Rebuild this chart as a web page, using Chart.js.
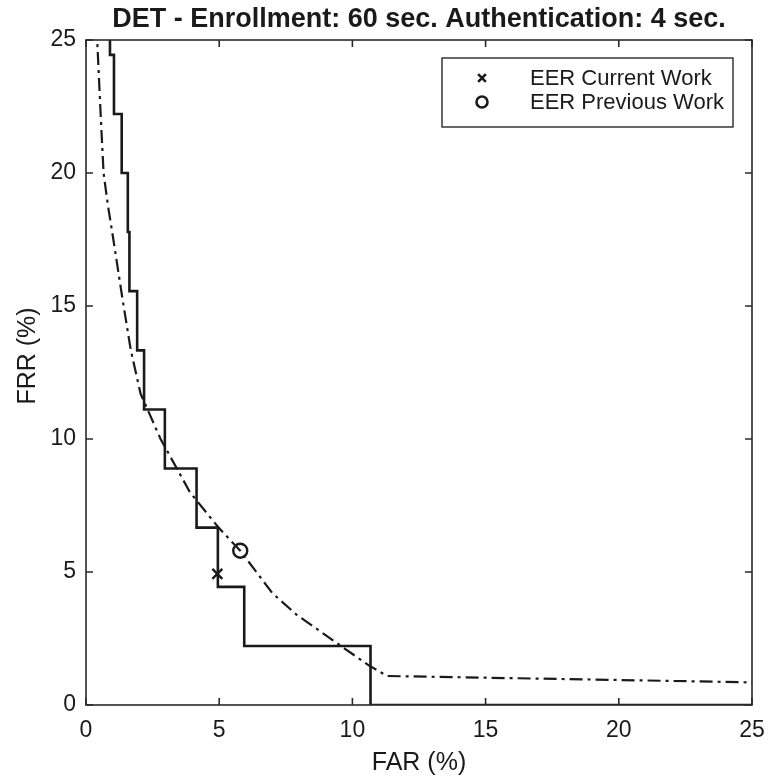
<!DOCTYPE html>
<html>
<head>
<meta charset="utf-8">
<title>DET</title>
<script src="https://cdn.jsdelivr.net/npm/chart.js@4.4.1/dist/chart.umd.min.js"></script>
<style>
  html, body { margin: 0; padding: 0; background: #fff; }
  #wrap { width: 768px; height: 784px; }
</style>
</head>
<body>
<div id="wrap"><canvas id="detChart" width="768" height="784"></canvas></div>
<script>
// DET staircase (step corners: FAR %, FRR %)
const stepFar = [0.9, 1.05, 1.34, 1.57, 1.63, 1.92, 2.18, 2.96, 4.15, 4.95, 5.94, 10.68, 25];
const stepFrr = [26.67, 24.44, 22.22, 20.0, 17.78, 15.56, 13.33, 11.11, 8.89, 6.67, 4.44, 2.22, 0];

// smooth DET curve (dash-dot)
const curveFar = [0.38, 0.42, 0.55, 0.66, 0.82, 0.98, 1.15, 1.38, 1.68, 2.05, 2.8, 3.9, 4.95, 5.79, 7.0, 7.9, 9.6, 10.6, 11.3, 20, 25];
const curveFrr = [26.5, 25, 22.2, 20, 18.8, 17.8, 16.7, 15.2, 13.35, 11.7, 10, 8, 6.7, 5.8, 4.2, 3.4, 2.2, 1.5, 1.09, 0.94, 0.85];

// equal error rate points
const eerCurrent = [4.93, 4.93];
const eerPrevious = [5.79, 5.8];

const axisTicks = [0, 5, 10, 15, 20, 25];
const titleText = 'DET - Enrollment: 60 sec. Authentication: 4 sec.';
const yTitle = 'FRR (%)';
const legendLabels = ['EER Current Work', 'EER Previous Work'];

const INK = '#1a1a1a';
const FONT = '"Liberation Sans", Arial, Helvetica, sans-serif';

function toPoints(xs, ys) {
    return xs.map((x, i) => ({ x: x, y: ys[i] }));
}

// 박스 테두리 + 안쪽 눈금 + 제목 + 범례
const framePlugin = {
    id: 'frame',
    afterDatasetsDraw(chart) {
        const { ctx, chartArea: a, scales } = chart;
        const len = 7;
        ctx.save();
        ctx.strokeStyle = '#2a2a2a';
        ctx.lineWidth = 1.6;
        ctx.strokeRect(a.left, a.top, a.right - a.left, a.bottom - a.top);

        ctx.beginPath();
        axisTicks.forEach(v => {
            const px = scales.x.getPixelForValue(v);
            ctx.moveTo(px, a.bottom); ctx.lineTo(px, a.bottom - len);
            ctx.moveTo(px, a.top); ctx.lineTo(px, a.top + len);
            const py = scales.y.getPixelForValue(v);
            ctx.moveTo(a.left, py); ctx.lineTo(a.left + len, py);
            ctx.moveTo(a.right, py); ctx.lineTo(a.right - len, py);
        });
        ctx.stroke();

        // 제목
        ctx.fillStyle = INK;
        ctx.font = 'bold 27px ' + FONT;
        ctx.textAlign = 'center';
        ctx.textBaseline = 'alphabetic';
        ctx.fillText(titleText, (a.left + a.right) / 2, 27);

        // y축 제목 (세로)
        ctx.save();
        ctx.translate(28, 356);
        ctx.rotate(-Math.PI / 2);
        ctx.font = '25px ' + FONT;
        ctx.textBaseline = 'middle';
        ctx.fillText(yTitle, 0, 0);
        ctx.restore();

        // 범례
        const bx = 442, by = 58, bw = 291, bh = 69;
        ctx.fillStyle = '#fff';
        ctx.fillRect(bx, by, bw, bh);
        ctx.strokeStyle = INK;
        ctx.lineWidth = 1.3;
        ctx.strokeRect(bx, by, bw, bh);

        const rows = [by + 20, by + 44];
        const sets = [chart.data.datasets[2], chart.data.datasets[3]];
        ctx.font = '22px ' + FONT;
        ctx.textAlign = 'left';
        ctx.textBaseline = 'middle';
        rows.forEach((ry, i) => {
            const ds = sets[i];
            ctx.strokeStyle = INK;
            ctx.fillStyle = 'rgba(0,0,0,0)';
            ctx.lineWidth = 2.6;
            Chart.helpers.drawPoint(ctx, {
                pointStyle: ds.pointStyle,
                radius: i === 0 ? 5.5 : 5.5,
                rotation: 0,
                borderWidth: 2.6
            }, 482, ry);
            ctx.fillStyle = INK;
            ctx.fillText(legendLabels[i], 530, ry + 1);
        });
        ctx.restore();
    }
};

const detChart = new Chart(document.getElementById('detChart'), {
    type: 'scatter',
    data: {
        datasets: [
            {
                label: 'DET',
                data: toPoints(stepFar, stepFrr),
                showLine: true,
                stepped: 'after',
                borderColor: INK,
                borderWidth: 2.6,
                pointRadius: 0,
                fill: false
            },
            {
                label: 'DET smooth',
                data: toPoints(curveFar, curveFrr),
                showLine: true,
                borderColor: INK,
                borderWidth: 2.2,
                borderDash: [13, 5, 3, 5],
                pointRadius: 0,
                tension: 0,
                fill: false
            },
            {
                label: legendLabels[0],
                data: [{ x: eerCurrent[0], y: eerCurrent[1] }],
                pointStyle: 'crossRot',
                pointRadius: 7,
                pointBorderWidth: 2.4,
                pointBorderColor: INK,
                showLine: false
            },
            {
                label: legendLabels[1],
                data: [{ x: eerPrevious[0], y: eerPrevious[1] }],
                pointStyle: 'circle',
                pointRadius: 7,
                pointBorderWidth: 2.4,
                pointBorderColor: INK,
                pointBackgroundColor: 'rgba(0,0,0,0)',
                showLine: false
            }
        ]
    },
    options: {
        responsive: false,
        animation: false,
        events: [],
        layout: { padding: { left: 0, right: 0, top: 40, bottom: 0 } },
        plugins: {
            legend: { display: false },
            tooltip: { enabled: false }
        },
        scales: {
            x: {
                type: 'linear',
                min: 0,
                max: 25,
                afterBuildTicks: s => { s.ticks = axisTicks.map(v => ({ value: v })); },
                afterFit: s => {
                    s.height = 79;
                    s.paddingRight = 16;
                },
                grid: { display: false, drawTicks: false },
                border: { display: false },
                ticks: {
                    color: INK,
                    padding: 12,
                    font: { family: FONT, size: 23 }
                },
                title: {
                    display: true,
                    text: 'FAR (%)',
                    color: INK,
                    font: { family: FONT, size: 25 },
                    padding: { top: 4, bottom: 6 }
                }
            },
            y: {
                type: 'linear',
                min: 0,
                max: 25,
                afterBuildTicks: s => { s.ticks = axisTicks.map(v => ({ value: v })); },
                afterFit: s => { s.width = 86; },
                grid: { display: false, drawTicks: false },
                border: { display: false },
                ticks: {
                    color: INK,
                    padding: 10,
                    font: { family: FONT, size: 23 }
                }
            }
        }
    },
    plugins: [framePlugin]
});
</script>
</body>
</html>
